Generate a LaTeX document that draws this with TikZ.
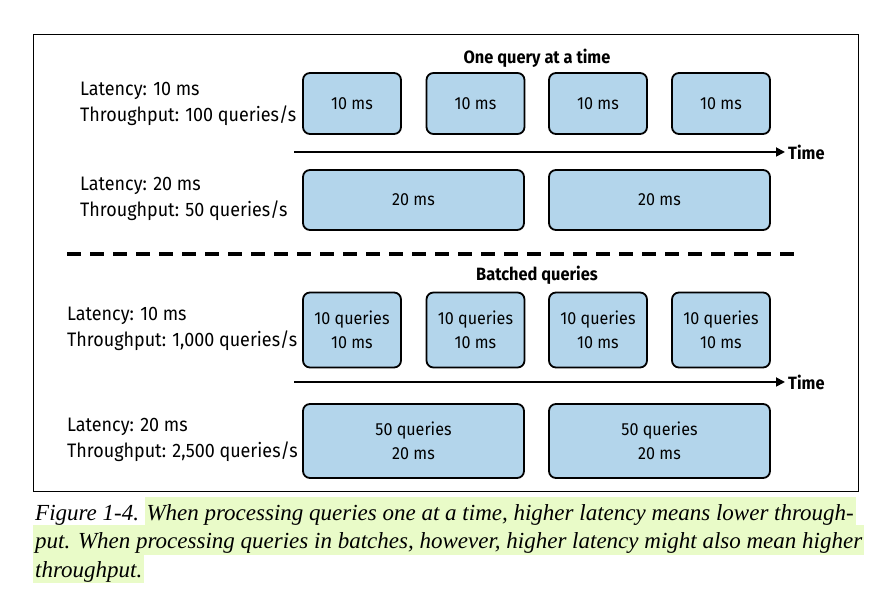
\documentclass[tikz,border=0pt]{standalone}
\usepackage{fontspec}
\setmainfont{Fira Sans}[FakeStretch=0.92]
\newfontfamily\capfont{Liberation Serif}
\usetikzlibrary{arrows.meta}
\definecolor{boxblue}{RGB}{179,213,235}
\definecolor{marker}{RGB}{233,251,200}
\tikzset{
  box/.style={draw, line width=1.8pt, rounded corners=7pt, fill=boxblue,
    align=center, font=\fontsize{17.5}{24}\selectfont},
  lbl/.style={anchor=west, align=left, inner sep=0pt, font=\fontsize{19.5}{26}\selectfont},
  head/.style={font=\fontsize{17.8}{20}\selectfont\bfseries},
  timeline/.style={line width=1.8pt, -{Triangle[length=9pt,width=9pt]}},
  captext/.style={anchor=base west, inner sep=0pt, font=\capfont\itshape\fontsize{23}{28}\selectfont},
  hl/.style={captext, fill=marker, text height=24pt, text depth=6pt, inner xsep=2pt}
}
\begin{document}
\begin{tikzpicture}[x=1pt,y=-1pt]
    \useasboundingbox[fill=white] (0,0) rectangle (887,593);
    \draw[line width=1pt] (33,35) rectangle (858,492);

    \node[head] (one) at (537,58) {One query at a time};
    \node[lbl] (l1) at (80,104) {Latency: 10 ms\\Throughput: 100 queries/s};
    \node[box, minimum width=98, minimum height=61] (q1) at (352,103.5) {10 ms};
    \node[box, minimum width=98, minimum height=61] (q2) at (475.5,103.5) {10 ms};
    \node[box, minimum width=98, minimum height=61] (q3) at (598,103.5) {10 ms};
    \node[box, minimum width=98, minimum height=61] (q4) at (721,103.5) {10 ms};

    \coordinate (t1s) at (294,152);
    \coordinate (t1e) at (785,152);
    \draw[timeline] (t1s) -- (t1e);
    \node[anchor=west, inner sep=3pt, head] (time1) at (t1e) {Time};

    \node[lbl] (l2) at (80,199) {Latency: 20 ms\\Throughput: 50 queries/s};
    \node[box, minimum width=221, minimum height=60] (s1) at (413.5,200) {20 ms};
    \node[box, minimum width=221, minimum height=60] (s2) at (659.5,200) {20 ms};

    \coordinate (d1) at (67,254);
    \coordinate (d2) at (796,254);
    \draw[line width=3.5pt, dash pattern=on 14pt off 9pt] (d1) -- (d2);

    \node[head] (bat) at (537,275) {Batched queries};
    \node[lbl] (l3) at (67,329) {Latency: 10 ms\\Throughput: 1,000 queries/s};
    \node[box, minimum width=98, minimum height=75] (b1) at (352,330) {10 queries\\10 ms};
    \node[box, minimum width=98, minimum height=75] (b2) at (475.5,330) {10 queries\\10 ms};
    \node[box, minimum width=98, minimum height=75] (b3) at (598,330) {10 queries\\10 ms};
    \node[box, minimum width=98, minimum height=75] (b4) at (721,330) {10 queries\\10 ms};

    \coordinate (t2s) at (294,382);
    \coordinate (t2e) at (785,382);
    \draw[timeline] (t2s) -- (t2e);
    \node[anchor=west, inner sep=3pt, head] (time2) at (t2e) {Time};

    \node[lbl] (l4) at (67,440) {Latency: 20 ms\\Throughput: 2,500 queries/s};
    \node[box, minimum width=221, minimum height=74] (c1) at (413.5,441) {50 queries\\20 ms};
    \node[box, minimum width=221, minimum height=74] (c2) at (659.5,441) {50 queries\\20 ms};

    \node[captext] (fig) at (35,521) {Figure 1-4.};
    \node[hl, anchor=base west, xshift=5pt] (cap1) at (fig.base east) {When processing queries one at a time, higher latency means lower through-};
    \node[hl] (cap2) at (33,549) {put. When processing queries in batches, however, higher latency might also mean higher};
    \node[hl] (cap3) at (33,577) {throughput.};
\end{tikzpicture}
\end{document}
